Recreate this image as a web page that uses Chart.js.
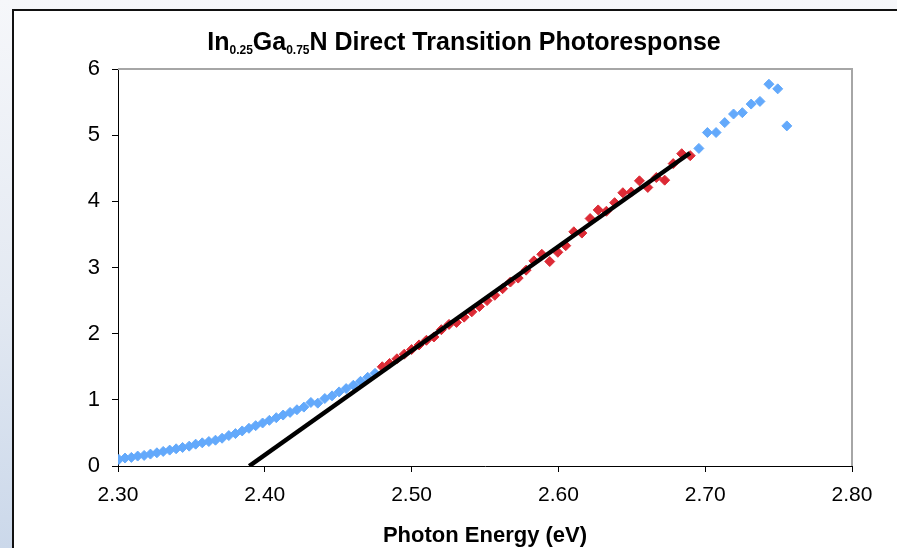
<!DOCTYPE html>
<html><head><meta charset="utf-8">
<script src="https://cdn.jsdelivr.net/npm/chart.js@4.4.0/dist/chart.umd.min.js"></script>
<style>
html,body{margin:0;padding:0;width:897px;height:548px;overflow:hidden;}
body{background:linear-gradient(to bottom,#f6f7fa 0%,#e3e9f2 55%,#cbd8ea 100%);position:relative;}
#box{position:absolute;left:12px;top:9px;width:920px;height:560px;background:#fff;border-left:2px solid #111;border-top:2px solid #111;}
#wrap{position:absolute;left:0;top:0;width:897px;height:548px;}
</style></head><body>
<div id="box"></div>
<div id="wrap"><canvas id="c" width="897" height="548"></canvas></div>
<script>
// Photon energy (eV) and photoresponse values
const blueLowEnergy = [2.3006, 2.3048, 2.3091, 2.3134, 2.3178, 2.3221, 2.3265, 2.3308, 2.3352, 2.3396,
  2.3440, 2.3485, 2.3529, 2.3574, 2.3619, 2.3664, 2.3709, 2.3755, 2.3800, 2.3846,
  2.3892, 2.3938, 2.3985, 2.4031, 2.4078, 2.4125, 2.4172, 2.4219, 2.4266, 2.4314,
  2.4361, 2.4409, 2.4458, 2.4506, 2.4554, 2.4603, 2.4652, 2.4701, 2.4751];
const blueLowValues = [0.10, 0.12, 0.13, 0.15, 0.16, 0.18, 0.20, 0.22, 0.24, 0.26,
  0.28, 0.30, 0.33, 0.35, 0.37, 0.39, 0.42, 0.46, 0.49, 0.53,
  0.57, 0.61, 0.65, 0.69, 0.73, 0.77, 0.81, 0.85, 0.89, 0.96,
  0.95, 1.02, 1.06, 1.12, 1.17, 1.22, 1.28, 1.34, 1.40];

const redEnergy = [2.4800, 2.4850, 2.4900, 2.4950, 2.5000, 2.5051, 2.5101, 2.5152, 2.5203, 2.5255,
  2.5306, 2.5358, 2.5410, 2.5462, 2.5514, 2.5567, 2.5620, 2.5673, 2.5726, 2.5780,
  2.5833, 2.5887, 2.5941, 2.5996, 2.6050, 2.6105, 2.6160, 2.6216, 2.6271, 2.6327,
  2.6383, 2.6439, 2.6496, 2.6552, 2.6609, 2.6667, 2.6724, 2.6782, 2.6840, 2.6898];
const redValues = [1.50, 1.55, 1.62, 1.69, 1.76, 1.83, 1.90, 1.95, 2.06, 2.14,
  2.17, 2.25, 2.33, 2.41, 2.50, 2.58, 2.68, 2.78, 2.84, 2.96,
  3.10, 3.20, 3.09, 3.23, 3.33, 3.54, 3.52, 3.74, 3.87, 3.85,
  3.98, 4.13, 4.14, 4.31, 4.21, 4.36, 4.32, 4.57, 4.72, 4.69];

const blueHighEnergy = [2.6957, 2.7015, 2.7074, 2.7133, 2.7193, 2.7253, 2.7313, 2.7373, 2.7434, 2.7494, 2.7556];
const blueHighValues = [4.80, 5.04, 5.04, 5.19, 5.32, 5.34, 5.47, 5.51, 5.77, 5.70, 5.14];

const fitEnergy = [2.3894, 2.6896];
const fitValues = [0, 4.73];

const xTicks = [2.30, 2.40, 2.50, 2.60, 2.70, 2.80];
const yTicks = [0, 1, 2, 3, 4, 5, 6];

const titleRuns = [
  {t: 'In', sub: false}, {t: '0.25', sub: true}, {t: 'Ga', sub: false},
  {t: '0.75', sub: true}, {t: 'N Direct Transition Photoresponse', sub: false}
];
const xTitle = 'Photon Energy (eV)';

const FONT = '"Liberation Sans", Arial, sans-serif';
const BLUE = '#63a9fb';
const RED = '#dc2a35';

const pts = (xs, ys) => xs.map((x, i) => ({x: x, y: ys[i]}));

const titlePlugin = {
  id: 'subTitle',
  afterDraw(chart) {
    const ctx = chart.ctx;
    ctx.save();
    ctx.fillStyle = '#000';
    ctx.textBaseline = 'alphabetic';
    ctx.textAlign = 'left';
    const mainF = 'bold 25px ' + FONT, subF = 'bold 12px ' + FONT;
    let total = 0;
    titleRuns.forEach(r => { ctx.font = r.sub ? subF : mainF; total += ctx.measureText(r.t).width; });
    let x = 464 - total / 2;
    const base = 50;
    titleRuns.forEach(r => {
      ctx.font = r.sub ? subF : mainF;
      ctx.fillText(r.t, x, r.sub ? base + 4 : base);
      x += ctx.measureText(r.t).width;
    });
    ctx.restore();
  }
};

const framePlugin = {
  id: 'frame',
  beforeDatasetsDraw(chart) {
    const {ctx, chartArea: a} = chart;
    ctx.save();
    ctx.strokeStyle = '#a6a6a6';
    ctx.lineWidth = 2;
    ctx.beginPath();
    ctx.moveTo(a.left, a.top);
    ctx.lineTo(a.right, a.top);
    ctx.lineTo(a.right, a.bottom);
    ctx.stroke();
    ctx.restore();
  }
};

new Chart(document.getElementById('c'), {
  type: 'scatter',
  data: {
    datasets: [
      {label: 'fit', data: pts(fitEnergy, fitValues), showLine: true, borderColor: '#000', borderWidth: 4.5,
       pointRadius: 0, order: 0, borderCapStyle: 'butt'},
      {label: 'fitted range', data: pts(redEnergy, redValues), pointStyle: 'rectRot', pointRadius: 5,
       backgroundColor: RED, borderColor: RED, borderWidth: 1, order: 1},
      {label: 'low', data: pts(blueLowEnergy, blueLowValues), pointStyle: 'rectRot', pointRadius: 5,
       backgroundColor: BLUE, borderColor: BLUE, borderWidth: 1, order: 2},
      {label: 'high', data: pts(blueHighEnergy, blueHighValues), pointStyle: 'rectRot', pointRadius: 5,
       backgroundColor: BLUE, borderColor: BLUE, borderWidth: 1, order: 2}
    ]
  },
  options: {
    responsive: false,
    animation: false,
    events: [],
    layout: {padding: {top: 69, right: 45, left: 0, bottom: 0}},
    plugins: {legend: {display: false}, tooltip: {enabled: false}, title: {display: false}},
    scales: {
      x: {
        type: 'linear', min: 2.3, max: 2.8,
        afterBuildTicks: s => { s.ticks = xTicks.map(v => ({value: v})); },
        afterFit: s => { s.height = 82; },
        ticks: {color: '#000', font: {family: FONT, size: 21}, padding: 11, maxRotation: 0,
          callback: v => Number(v).toFixed(2)},
        grid: {drawOnChartArea: false, drawTicks: true, tickLength: 6, color: '#000', lineWidth: 1},
        border: {display: true, color: '#000', width: 1},
        title: {display: true, text: xTitle, color: '#000', font: {family: FONT, size: 22, weight: 'bold', lineHeight: 1},
          padding: {top: 0, bottom: 1}}
      },
      y: {
        type: 'linear', min: 0, max: 6,
        afterBuildTicks: s => { s.ticks = yTicks.map(v => ({value: v})); },
        afterFit: s => { s.width = 118; },
        ticks: {color: '#000', font: {family: FONT, size: 22}, padding: 12},
        grid: {drawOnChartArea: false, drawTicks: true, tickLength: 6, color: '#000', lineWidth: 1},
        border: {display: true, color: '#000', width: 1}
      }
    }
  },
  plugins: [framePlugin, titlePlugin]
});
</script>
</body></html>
